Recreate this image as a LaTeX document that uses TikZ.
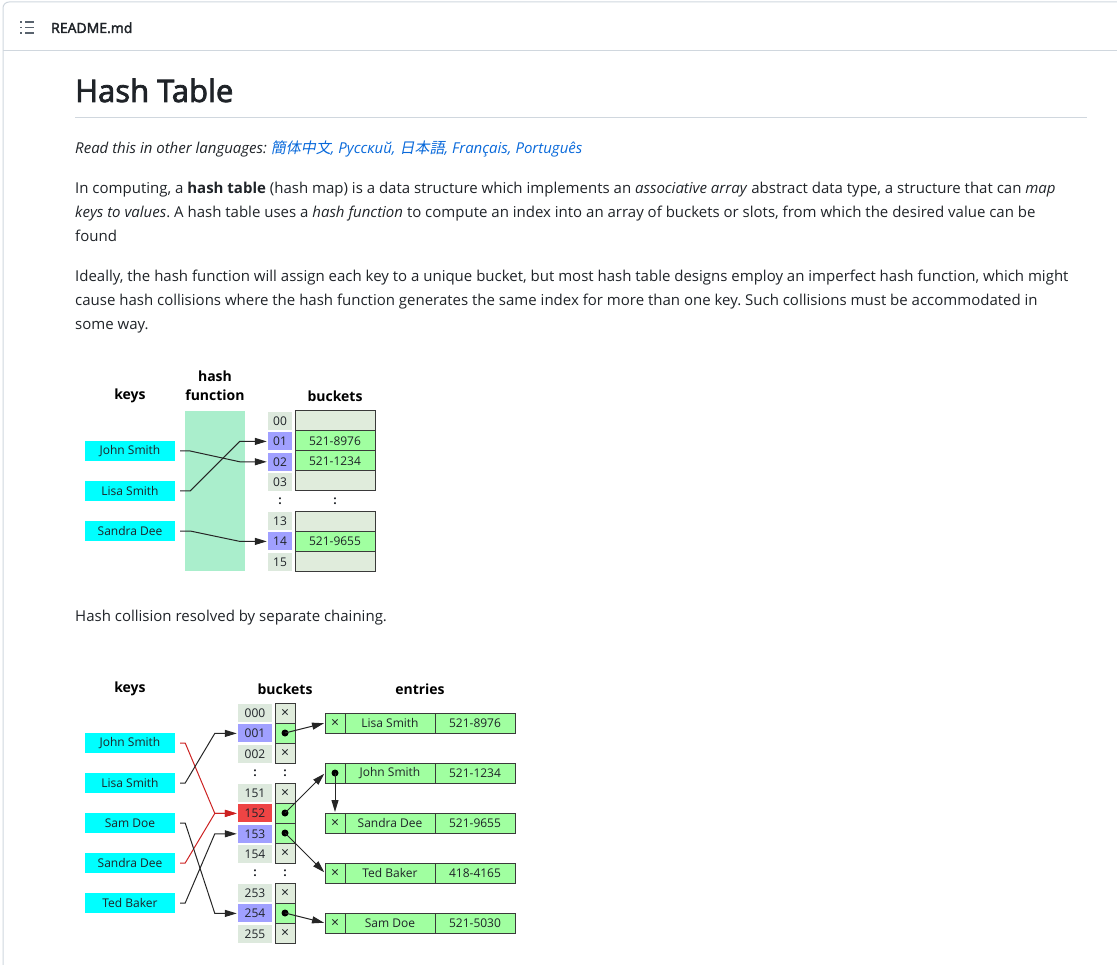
\documentclass[tikz,border=0pt]{standalone}
\usepackage{fontspec}
\setmainfont{Open Sans}
\newfontfamily\cjkfont[FakeSlant=0.2]{Noto Sans CJK JP}
\newfontfamily\semifont[FakeBold=2.5]{Open Sans}
\usetikzlibrary{positioning, arrows.meta}
\definecolor{ghtext}{HTML}{1F2328}
\definecolor{ghlink}{HTML}{0969DA}
\definecolor{ghborder}{HTML}{D0D7DE}
\definecolor{ghicon}{HTML}{59636E}
\definecolor{keycyan}{HTML}{00FFFF}
\definecolor{hashgreen}{HTML}{AAEECC}
\definecolor{idxgray}{HTML}{DDE9DD}
\definecolor{idxblue}{HTML}{A0A0FF}
\definecolor{idxred}{HTML}{EE4444}
\definecolor{cellempty}{HTML}{E0ECDC}
\definecolor{cellfull}{HTML}{A0FFA0}
\definecolor{cellline}{HTML}{3A3A3A}
\definecolor{collide}{HTML}{CC2222}
\newcommand\txtsize{\fontsize{15}{24}\selectfont}
\newcommand\cellsize{\fontsize{12}{14}\selectfont}
\frenchspacing

\begin{document}
\begin{tikzpicture}[
		x=1pt, y=-1pt,
		every node/.style={text=ghtext},
		textline/.style={anchor=base west, inner sep=0pt, font=\txtsize},
		label/.style={inner sep=0pt, font=\fontsize{14}{19}\selectfont\bfseries, text=black, align=center},
		keybox/.style={fill=keycyan, minimum width=90pt, minimum height=20pt, inner sep=0pt, font=\cellsize},
		idx/.style={fill=idxgray, minimum width=24pt, minimum height=18pt, inner sep=0pt, font=\cellsize},
		idxwide/.style={idx, minimum width=34pt},
		slot/.style={draw=cellline, line width=1pt, fill=cellempty, minimum width=80pt, minimum height=20pt, inner sep=0pt, outer sep=0pt, font=\cellsize},
		full/.style={fill=cellfull},
		ptr/.style={slot, minimum width=20pt, font=\fontsize{14}{14}\selectfont},
		namecell/.style={slot, full, minimum width=90pt},
		dot/.style={circle, fill=black, inner sep=0pt, minimum size=7pt},
		arrow/.style={-{Triangle[length=12pt,width=7pt]}, line width=1pt, draw=black!85, shorten >=1pt},
		redarrow/.style={arrow, draw=collide, -{Triangle[length=12pt,width=7pt,fill=collide]}}
		]
		\useasboundingbox (0,0) rectangle (1117,965);
		
		% Card frame and header
		\draw[ghborder, line width=1pt, rounded corners=6pt] (3,965) -- (3,2) -- (1117,2);
		\draw[ghborder, line width=1pt] (3,51) -- (1117,51);
		\draw[ghicon, line width=1.3pt] (20,22) -- (22,22) (25,22) -- (34,22)
			(20,27.5) -- (22,27.5) (25,27.5) -- (34,27.5)
			(20,33) -- (22,33) (25,33) -- (34,33);
		\node[anchor=base west, inner sep=0pt, font=\fontsize{14}{16}\semifont] (readme) at (51,33) {README.md};
		
		% Title and text
		\node[anchor=base west, inner sep=0pt, font=\fontsize{31}{40}\semifont] (title) at (75,102) {Hash Table};
		\draw[ghborder, line width=1pt] (75,118) -- (1087,118);
		\node[textline] (langs) at (75,154) {\itshape Read this in other languages: \textcolor{ghlink}{{\cjkfont 簡体中文}, Русский, {\cjkfont 日本語}, Français, Português}};
		\node[textline] (para1a) at (75,194) {In computing, a \textbf{hash table} (hash map) is a data structure which implements an \textit{associative array} abstract data type, a structure that can \textit{map}};
		\node[textline] (para1b) at (75,218) {\textit{keys to values}. A hash table uses a \textit{hash function} to compute an index into an array of buckets or slots, from which the desired value can be};
		\node[textline] (para1c) at (75,242) {found};
		\node[textline] (para2a) at (75,282) {Ideally, the hash function will assign each key to a unique bucket, but most hash table designs employ an imperfect hash function, which might};
		\node[textline] (para2b) at (75,306) {cause hash collisions where the hash function generates the same index for more than one key. Such collisions must be accommodated in};
		\node[textline] (para2c) at (75,330) {some way.};
		\node[textline] (caption) at (75,621) {Hash collision resolved by separate chaining.};
		
		% First diagram: keys, hash function, buckets
		\node[label] (keys1) at (130,396) {keys};
		\node[label] (hashlbl) at (215,386) {hash\\function};
		\node[label] (buckets1) at (335,396) {buckets};
		\node[fill=hashgreen, minimum width=60pt, minimum height=160pt, inner sep=0pt] (hashfn) at (215,491) {};
		
		\node[keybox] (john1) at (130,451) {John Smith};
		\node[keybox] (lisa1) at (130,491) {Lisa Smith};
		\node[keybox] (sandra1) at (130,531) {Sandra Dee};
		
		\node[idx] (i00) at (280,421) {00};
		\node[idx, fill=idxblue, below=2pt of i00] (i01) {01};
		\node[idx, fill=idxblue, below=2pt of i01] (i02) {02};
		\node[idx, below=2pt of i02] (i03) {03};
		\node[idx] (i13) at (280,521) {13};
		\node[idx, fill=idxblue, below=2pt of i13] (i14) {14};
		\node[idx, below=2pt of i14] (i15) {15};
		\node[inner sep=0pt, font=\cellsize\bfseries] (dots1a) at (280,501) {:};
		
		\node[slot] (b00) at (335,421) {};
		\node[slot, full, below=0pt of b00] (b01) {521-8976};
		\node[slot, full, below=0pt of b01] (b02) {521-1234};
		\node[slot, below=0pt of b02] (b03) {};
		\node[slot] (b13) at (335,521) {};
		\node[slot, full, below=0pt of b13] (b14) {521-9655};
		\node[slot, below=0pt of b14] (b15) {};
		\node[inner sep=0pt, font=\cellsize\bfseries] (dots1b) at (335,501) {:};
		
		\draw[arrow] ([xshift=5pt]john1.east) -- ++(10,0) -- ([xshift=-28pt]i02.west) -- (i02.west);
		\draw[arrow] ([xshift=5pt]lisa1.east) -- ++(10,0) -- ([xshift=-28pt]i01.west) -- (i01.west);
		\draw[arrow] ([xshift=5pt]sandra1.east) -- ++(10,0) -- ([xshift=-28pt]i14.west) -- (i14.west);
		
		% Second diagram: separate chaining
		\node[label] (keys2) at (130,689) {keys};
		\node[label] (buckets2) at (285,689) {buckets};
		\node[label] (entries) at (420,689) {entries};
		
		\node[keybox] (john2) at (130,743) {John Smith};
		\node[keybox] (lisa2) at (130,783) {Lisa Smith};
		\node[keybox] (sam2) at (130,823) {Sam Doe};
		\node[keybox] (sandra2) at (130,863) {Sandra Dee};
		\node[keybox] (ted2) at (130,903) {Ted Baker};
		
		\node[idxwide] (i000) at (255,713) {000};
		\node[idxwide, fill=idxblue, below=2pt of i000] (i001) {001};
		\node[idxwide, below=2pt of i001] (i002) {002};
		\node[idxwide] (i151) at (255,793) {151};
		\node[idxwide, fill=idxred, below=2pt of i151] (i152) {152};
		\node[idxwide, fill=idxblue, below=2pt of i152] (i153) {153};
		\node[idxwide, below=2pt of i153] (i154) {154};
		\node[idxwide] (i253) at (255,893) {253};
		\node[idxwide, fill=idxblue, below=2pt of i253] (i254) {254};
		\node[idxwide, below=2pt of i254] (i255) {255};
		\node[inner sep=0pt, font=\cellsize\bfseries] (dots2a) at (255,773) {:};
		\node[inner sep=0pt, font=\cellsize\bfseries] (dots2b) at (255,873) {:};
		
		\node[ptr] (p000) at (285,713) {×};
		\node[ptr, full, below=0pt of p000] (p001) {};
		\node[ptr, below=0pt of p001] (p002) {×};
		\node[ptr] (p151) at (285,793) {×};
		\node[ptr, full, below=0pt of p151] (p152) {};
		\node[ptr, full, below=0pt of p152] (p153) {};
		\node[ptr, below=0pt of p153] (p154) {×};
		\node[ptr] (p253) at (285,893) {×};
		\node[ptr, full, below=0pt of p253] (p254) {};
		\node[ptr, below=0pt of p254] (p255) {×};
		\node[inner sep=0pt, font=\cellsize\bfseries] (dots2c) at (285,773) {:};
		\node[inner sep=0pt, font=\cellsize\bfseries] (dots2d) at (285,873) {:};
		\node[dot] (d001) at (p001.center) {};
		\node[dot] (d152) at (p152.center) {};
		\node[dot] (d153) at (p153.center) {};
		\node[dot] (d254) at (p254.center) {};
		
		\node[ptr, full] (e1p) at (335,723) {×};
		\node[namecell, right=0pt of e1p] (e1n) {Lisa Smith};
		\node[slot, full, right=0pt of e1n] (e1v) {521-8976};
		\node[ptr, full] (e2p) at (335,773) {};
		\node[namecell, right=0pt of e2p] (e2n) {John Smith};
		\node[slot, full, right=0pt of e2n] (e2v) {521-1234};
		\node[ptr, full] (e3p) at (335,823) {×};
		\node[namecell, right=0pt of e3p] (e3n) {Sandra Dee};
		\node[slot, full, right=0pt of e3n] (e3v) {521-9655};
		\node[ptr, full] (e4p) at (335,873) {×};
		\node[namecell, right=0pt of e4p] (e4n) {Ted Baker};
		\node[slot, full, right=0pt of e4n] (e4v) {418-4165};
		\node[ptr, full] (e5p) at (335,923) {×};
		\node[namecell, right=0pt of e5p] (e5n) {Sam Doe};
		\node[slot, full, right=0pt of e5n] (e5v) {521-5030};
		\node[dot] (d2) at (e2p.center) {};
		
		% Keys to buckets
		\draw[redarrow] ([xshift=5pt]john2.east) -- ++(5,0) -- ([xshift=-23pt]i152.west) -- (i152.west);
		\draw[redarrow] ([xshift=5pt]sandra2.east) -- ++(5,0) -- ([xshift=-23pt]i152.west) -- (i152.west);
		\draw[arrow] ([xshift=5pt]lisa2.east) -- ++(5,0) -- ([xshift=-23pt]i001.west) -- (i001.west);
		\draw[arrow] ([xshift=5pt]sam2.east) -- ++(5,0) -- ([xshift=-23pt]i254.west) -- (i254.west);
		\draw[arrow] ([xshift=5pt]ted2.east) -- ++(5,0) -- ([xshift=-23pt]i153.west) -- (i153.west);
		
		% Buckets to entries
		\draw[arrow] (d001.center) -- (e1p.west);
		\draw[arrow] (d152.center) -- (e2p.west);
		\draw[arrow] (d153.center) -- (e4p.west);
		\draw[arrow] (d254.center) -- (e5p.west);
		\draw[arrow] (d2.center) -- (e3p.north);
		
	\end{tikzpicture}
\end{document}
